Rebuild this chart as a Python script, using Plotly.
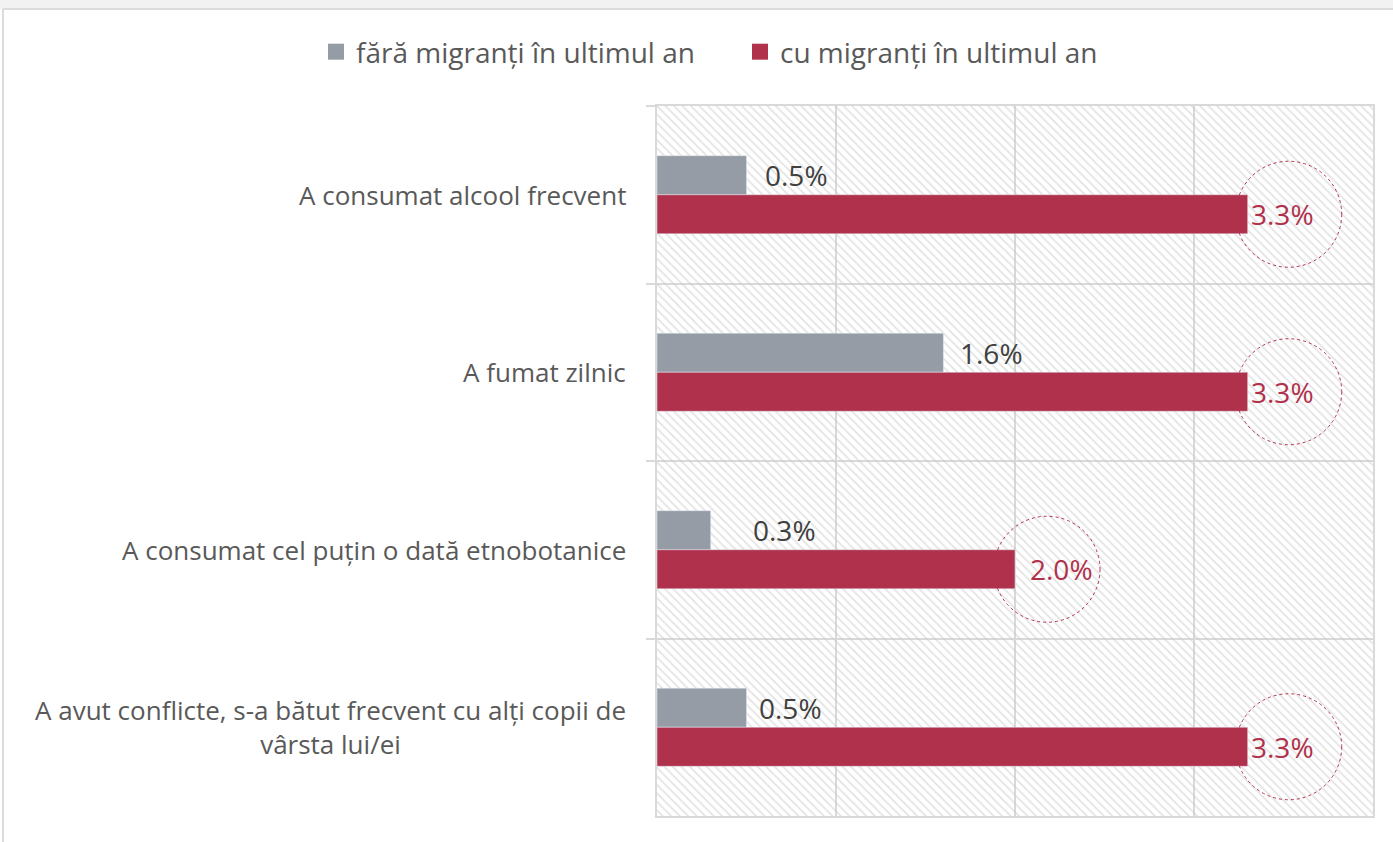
import plotly.graph_objects as go

# Données
categories = [
    "A consumat alcool frecvent",
    "A fumat zilnic",
    "A consumat cel puțin o dată etnobotanice",
    "A avut conflicte, s-a bătut frecvent cu alți copii de<br>vârsta lui/ei",
]
fara_migranti = [0.5, 1.6, 0.3, 0.5]
cu_migranti = [3.3, 3.3, 2.0, 3.3]
series_names = ["fără migranți în ultimul an", "cu migranți în ultimul an"]

# décalages (pixels) des étiquettes et des cercles après la fin de barre
pad_grey = [18, 17, 42, 12]
pad_red = [3, 3, 15, 3]
circle_shift = [0, 0, -9, 0]

GREY = "#959ca5"
RED = "#b0314b"
TEXT = "#595959"
LINE = "#d9d9d9"
FONT = "Open Sans"

W, H = 1393, 842
ML, MR, MT, MB = 657, 20, 106, 26
BAR_PX = 19.5  # demi-décalage vertical entre les deux barres d'un groupe

fig = go.Figure()

# fond hachuré (axe de base, sous les barres)
fig.add_trace(go.Bar(
    x=[0.5], y=[1], width=[1], xaxis="x", yaxis="y",
    marker=dict(color="rgba(0,0,0,0)", line=dict(width=0),
                pattern=dict(shape="\\", fgcolor="#c8c8c8", size=6, solidity=0.3)),
    showlegend=False, hoverinfo="skip",
))

for vals, name, col in [(fara_migranti, series_names[0], GREY),
                        (cu_migranti, series_names[1], RED)]:
    fig.add_trace(go.Bar(
        y=categories, x=vals, name=name, orientation="h",
        xaxis="x2", yaxis="y2", marker_color=col, showlegend=False,
    ))

# légende avec carrés plus grands (une légende par série)
for name, col, leg in [(series_names[0], GREY, "legend"),
                       (series_names[1], RED, "legend2")]:
    fig.add_trace(go.Scatter(
        x=[None], y=[None], mode="markers", name=name, xaxis="x2", yaxis="y2",
        marker=dict(symbol="square", size=18, color=col), legend=leg,
    ))

shapes = []
annotations = []
for i, c in enumerate(categories):
    # libellés des catégories
    annotations.append(dict(
        x=0, xref="paper", xanchor="right", xshift=-29,
        y=i, yref="y2", yanchor="middle",
        text=c, showarrow=False, align="center",
        font=dict(size=26, color=TEXT, family=FONT),
    ))
    # étiquettes de valeurs
    annotations.append(dict(
        x=fara_migranti[i], xref="x2", xanchor="left", xshift=pad_grey[i] - 2,
        y=i, yref="y2", yanchor="middle", yshift=BAR_PX,
        text=f"{fara_migranti[i]:.1f}%", showarrow=False,
        font=dict(size=28, color="#404040", family=FONT),
    ))
    annotations.append(dict(
        x=cu_migranti[i], xref="x2", xanchor="left", xshift=pad_red[i] - 2,
        y=i, yref="y2", yanchor="middle", yshift=-BAR_PX,
        text=f"{cu_migranti[i]:.1f}%", showarrow=False,
        font=dict(size=28, color=RED, family=FONT),
    ))
    # cercles pointillés autour des étiquettes rouges
    shapes.append(dict(
        type="circle", xref="x2", yref="y2",
        xsizemode="pixel", ysizemode="pixel",
        xanchor=cu_migranti[i], yanchor=i,
        x0=-12 + circle_shift[i], x1=94 + circle_shift[i],
        y0=-BAR_PX - 53, y1=-BAR_PX + 53,
        line=dict(color=RED, width=1, dash="dot"),
    ))

# cadre de la page (bande grise en haut, bord à gauche)
pw, ph = W - ML - MR, H - MT - MB
px = lambda v: (v - ML) / pw
py = lambda v: (H - MB - v) / ph
shapes.append(dict(type="rect", xref="paper", yref="paper", layer="below",
                   x0=px(0), x1=px(W), y0=py(9), y1=py(0),
                   fillcolor="#f2f2f2", line=dict(width=0)))
shapes.append(dict(type="line", xref="paper", yref="paper",
                   x0=px(3), x1=px(W), y0=py(9), y1=py(9),
                   line=dict(color="#dcdcdc", width=2)))
shapes.append(dict(type="line", xref="paper", yref="paper",
                   x0=px(3), x1=px(3), y0=py(9), y1=py(H),
                   line=dict(color="#dcdcdc", width=2)))

legend_style = dict(orientation="h", xref="container", xanchor="left",
                    yref="container", y=1 - 52 / H, yanchor="middle",
                    bgcolor="rgba(0,0,0,0)",
                    font=dict(size=28, color=TEXT, family=FONT))

fig.update_layout(
    width=W, height=H,
    margin=dict(l=ML, r=MR, t=MT, b=MB),
    paper_bgcolor="white", plot_bgcolor="white",
    barmode="group", bargap=0.56, bargroupgap=0,
    font=dict(family=FONT, color=TEXT),
    xaxis=dict(range=[0, 1], visible=False, fixedrange=True, automargin=False),
    yaxis=dict(range=[0, 1], visible=False, fixedrange=True, automargin=False),
    xaxis2=dict(overlaying="x", range=[0, 4], dtick=1, showgrid=True,
                gridcolor=LINE, gridwidth=2, showticklabels=False,
                zeroline=False, showline=True, linecolor=LINE, linewidth=2,
                mirror=True, automargin=False),
    yaxis2=dict(overlaying="y", autorange="reversed", tickson="boundaries",
                showgrid=True, gridcolor=LINE, gridwidth=2,
                ticks="outside", ticklen=9, tickcolor=LINE, tickwidth=2,
                showticklabels=False, showline=True, linecolor=LINE,
                linewidth=2, mirror=True, automargin=False),
    legend=dict(x=316 / W, **legend_style),
    legend2=dict(x=740 / W, **legend_style),
    shapes=shapes,
    annotations=annotations,
    showlegend=True,
)

fig.write_html("out.html", config={"displayModeBar": False},
               post_script="document.body.style.margin='0';")
